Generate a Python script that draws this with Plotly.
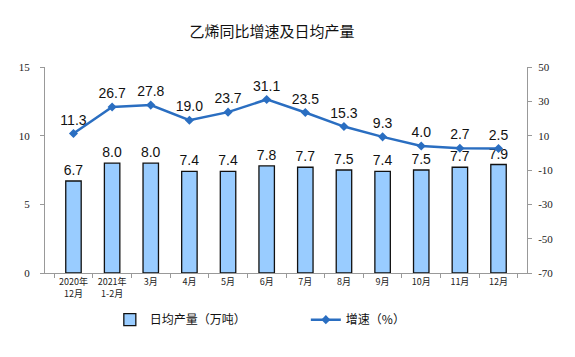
import plotly.graph_objects as go

categories = ["2020年<br>12月", "2021年<br>1-2月", "3月", "4月", "5月", "6月", "7月", "8月", "9月", "10月", "11月", "12月"]
output = [6.7, 8.0, 8.0, 7.4, 7.4, 7.8, 7.7, 7.5, 7.4, 7.5, 7.7, 7.9]
growth = [11.3, 26.7, 27.8, 19.0, 23.7, 31.1, 23.5, 15.3, 9.3, 4.0, 2.7, 2.5]
left_ticks = [0, 5, 10, 15]
right_ticks = [-70, -50, -30, -10, 10, 30, 50]
right_tick_labels = ["-70", "-50", "-30", "-10", "10", "30", "50"]

fig = go.Figure()
fig.add_trace(go.Bar(
    x=categories, y=output, name="日均产量（万吨）",
    marker=dict(color="#99CCFF", line=dict(color="#111111", width=1.3)),
    text=[f"{v:.1f}" for v in output], textposition="outside", constraintext="none",
    textfont=dict(family="Liberation Sans, Arial", size=14, color="#111"),
    cliponaxis=False,
))
fig.add_trace(go.Scatter(
    x=categories, y=growth, name="增速（%）", yaxis="y2",
    mode="lines+markers+text",
    line=dict(color="#2A6EC1", width=2.5),
    marker=dict(symbol="diamond", size=7, color="#2A6EC1"),
    text=[f"{v:.1f}" for v in growth], textposition="top center",
    textfont=dict(family="Liberation Sans, Arial", size=14, color="#111"),
    cliponaxis=False,
))

fig.update_layout(
    width=575, height=357,
    margin=dict(l=45, r=48, t=67, b=84, autoexpand=False),
    paper_bgcolor="white", plot_bgcolor="white",
    title=dict(text="乙烯同比增速及日均产量", x=0.473, xanchor="center", y=0.91, yanchor="middle",
               font=dict(family="Noto Sans CJK SC", size=15, color="#111")),
    bargap=0.6,
    showlegend=True,
    legend=dict(orientation="h", x=0.1345, y=-0.156, xanchor="left", yanchor="top",
                entrywidth=151, font=dict(family="Noto Sans CJK SC", size=12, color="#111"),
                itemwidth=30),
    xaxis=dict(showline=True, linecolor="#999", ticks="outside", tickcolor="#999", ticklen=4,
               tickson="boundaries", tickangle=0, automargin=False,
               tickfont=dict(family="Noto Sans CJK SC", size=9, color="#222"),
               showgrid=False, fixedrange=True),
    yaxis=dict(range=[0, 15], tickvals=left_ticks, showline=True, linecolor="#999",
               ticks="outside", tickcolor="#999", ticklen=4, showgrid=False, zeroline=False,
               ticklabelstandoff=8, automargin=False,
               tickfont=dict(family="Liberation Serif, Times New Roman", size=11, color="#222")),
    yaxis2=dict(range=[-70, 50], tickvals=right_ticks, ticktext=right_tick_labels,
                overlaying="y", side="right",
                showline=True, linecolor="#999", ticks="outside", tickcolor="#999", ticklen=4,
                showgrid=False, zeroline=False, ticklabelstandoff=4, automargin=False,
                tickfont=dict(family="Liberation Serif, Times New Roman", size=11, color="#222")),
)

fig.write_html("out.html", config={"displayModeBar": False},
               post_script="document.body.style.margin='0';")
